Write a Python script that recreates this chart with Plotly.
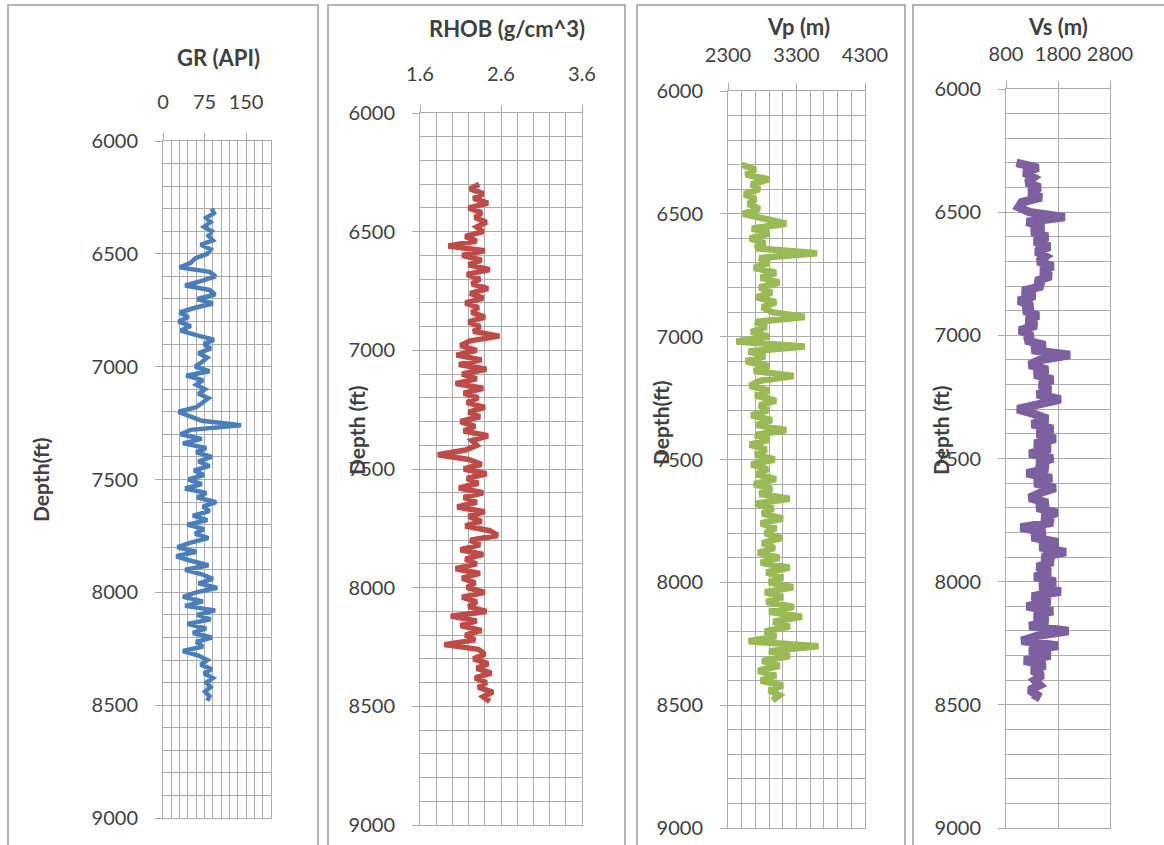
import plotly.graph_objects as go

# ---------------- data ----------------
depth_ft = [
    6300, 6320, 6340, 6360, 6380, 6400, 6420, 6440, 6460, 6480,
    6500, 6520, 6540, 6560, 6580, 6600, 6620, 6640, 6660, 6680,
    6700, 6720, 6740, 6760, 6780, 6800, 6820, 6840, 6860, 6880,
    6900, 6920, 6940, 6960, 6980, 7000, 7020, 7040, 7060, 7080,
    7100, 7120, 7140, 7160, 7180, 7200, 7220, 7240, 7260, 7280,
    7300, 7320, 7340, 7360, 7380, 7400, 7420, 7440, 7460, 7480,
    7500, 7520, 7540, 7560, 7580, 7600, 7620, 7640, 7660, 7680,
    7700, 7720, 7740, 7760, 7780, 7800, 7820, 7840, 7860, 7880,
    7900, 7920, 7940, 7960, 7980, 8000, 8020, 8040, 8060, 8080,
    8100, 8120, 8140, 8160, 8180, 8200, 8220, 8240, 8260, 8280,
    8300, 8320, 8340, 8360, 8380, 8400, 8420, 8440, 8460, 8480,
]

gr_api = [
    88, 92, 78, 86, 74, 88, 82, 90, 68, 86,
    80, 58, 50, 30, 84, 95, 70, 40, 84, 94,
    62, 90, 56, 30, 46, 28, 50, 32, 60, 92,
    74, 86, 64, 80, 70, 58, 84, 42, 72, 60,
    76, 64, 82, 70, 60, 28, 48, 70, 141, 50,
    32, 70, 36, 78, 60, 88, 64, 84, 56, 74,
    46, 70, 40, 78, 62, 96, 72, 84, 54, 80,
    44, 74, 58, 82, 50, 26, 60, 24, 50, 82,
    40, 70, 90, 64, 98, 60, 36, 72, 40, 94,
    62, 86, 44, 78, 54, 88, 60, 72, 36, 64,
    80, 68, 88, 74, 90, 78, 86, 76, 84, 80,
]

rhob_gcc = [
    2.33, 2.22, 2.38, 2.26, 2.44, 2.20, 2.36, 2.28, 2.42, 2.30,
    2.38, 2.16, 2.30, 1.95, 2.40, 2.12, 2.36, 2.20, 2.46, 2.18,
    2.34, 2.24, 2.44, 2.22, 2.38, 2.16, 2.32, 2.24, 2.40, 2.20,
    2.34, 2.26, 2.58, 2.22, 2.10, 2.30, 2.05, 2.36, 2.08, 2.42,
    2.12, 2.30, 2.04, 2.38, 2.14, 2.32, 2.18, 2.40, 2.20, 2.34,
    2.10, 2.28, 2.14, 2.44, 2.24, 2.30, 2.16, 1.82, 2.20, 2.36,
    2.14, 2.42, 2.18, 2.32, 2.08, 2.38, 2.14, 2.30, 2.06, 2.40,
    2.20, 2.36, 2.16, 2.46, 2.56, 2.22, 2.34, 2.10, 2.38, 2.16,
    2.30, 2.04, 2.34, 2.12, 2.28, 2.18, 2.40, 2.12, 2.30, 2.20,
    2.42, 1.98, 2.30, 2.10, 2.36, 2.16, 2.28, 1.90, 2.32, 2.40,
    2.26, 2.44, 2.30, 2.48, 2.28, 2.42, 2.32, 2.50, 2.38, 2.46,
]

vp_m = [
    2500, 2700, 2560, 2900, 2640, 2760, 2540, 2700, 2600, 2760,
    2520, 2800, 3150, 2650, 2900, 2620, 2840, 2700, 3600, 2760,
    2900, 2680, 3000, 2780, 3050, 2760, 2940, 2720, 3000, 2800,
    2940, 3420, 2700, 2860, 2640, 2900, 2420, 3420, 2600, 2840,
    2560, 2900, 2680, 3260, 2760, 2620, 2900, 2700, 3000, 2760,
    2880, 2640, 2940, 2720, 3150, 2700, 2900, 2620, 2860, 2700,
    2980, 2640, 2880, 2720, 3000, 2680, 2940, 2760, 3200, 2700,
    2960, 2800, 3100, 2780, 3000, 2840, 3080, 2800, 2980, 2740,
    3050, 2780, 3200, 2860, 3100, 2900, 3250, 2840, 3100, 2860,
    3260, 2900, 3380, 2960, 3200, 2840, 3000, 2600, 3620, 2900,
    3200, 2800, 3050, 2740, 3000, 2780, 3100, 2900, 3050, 2950,
]

vs_m = [
    1000, 1420, 1150, 1330, 1200, 1450, 1250, 1480, 1100, 1040,
    1250, 1930, 1200, 1520, 1300, 1600, 1350, 1640, 1380, 1560,
    1420, 1700, 1480, 1660, 1380, 1500, 1120, 1350, 1040, 1300,
    1150, 1420, 1200, 1380, 1060, 1300, 1180, 1550, 1300, 2030,
    1450, 1250, 1600, 1350, 1700, 1450, 1650, 1400, 1850, 1500,
    1020, 1350, 1600, 1300, 1700, 1400, 1750, 1350, 1650, 1250,
    1700, 1400, 1600, 1200, 1680, 1350, 1750, 1450, 1250, 1600,
    1400, 1780, 1500, 1700, 1080, 1550, 1300, 1800, 1450, 1950,
    1500, 1700, 1400, 1650, 1350, 1750, 1450, 1850, 1300, 1650,
    1200, 1700, 1350, 1600, 1250, 2000, 1400, 1100, 1800, 1250,
    1650, 1150, 1550, 1300, 1500, 1350, 1450, 1250, 1400, 1350,
]

panel_titles = ["GR (API)", "RHOB (g/cm^3)", "Vp (m)", "Vs (m)"]
depth_titles = ["Depth(ft)", "Depth (ft)", "Depth(ft)", "Depth (ft)"]
x_ranges = [[0, 195], [1.6, 3.6], [2300, 4300], [800, 2800]]
x_tick0 = [0, 1.6, 2300, 800]
x_major = [75, 1.0, 1000, 1000]
x_minor = [15, 0.2, 200, None]
depth_range = [9000, 6000]

series = [gr_api, rhob_gcc, vp_m, vs_m]
colors = ["#4A7EBB", "#BE4B48", "#98B954", "#7D60A0"]
widths = [4.5, 5.5, 6.5, 8.5]

# ---------------- layout geometry (pixels) ----------------
W, H = 1164, 845
plot_px = [  # left, right, top, bottom
    (163, 271, 141, 818),
    (420, 582, 113, 825),
    (728, 865, 91, 828),
    (1006, 1110, 89, 828),
]
title_px = [(218, 58), (507, 28), (798, 27), (1058, 27)]
ytitle_px = [(40, 480), (356, 430), (660, 423), (940, 430)]
frame_px = [(8, 318), (328, 625), (637, 905), (913, 1175)]
label_standoff = [16, 16, 13, 12]

FONT = "Lato, Carlito, 'Open Sans', sans-serif"
GRID = "#ababab"
TXT = "#404040"


def px_x(v):
    return v / W


def px_y(v):
    return 1 - v / H


fig = go.Figure()
layout = dict(
    width=W, height=H, autosize=False,
    margin=dict(l=0, r=0, t=0, b=0, pad=0),
    paper_bgcolor="white", plot_bgcolor="white",
    showlegend=False,
    font=dict(family=FONT, color=TXT),
)

annotations = []
shapes = []
for i in range(4):
    n = "" if i == 0 else str(i + 1)
    l, r, t, b = plot_px[i]
    fig.add_trace(go.Scatter(
        x=series[i], y=depth_ft, mode="lines",
        line=dict(color=colors[i], width=widths[i]),
        xaxis="x" + n, yaxis="y" + n,
    ))
    xa = dict(
        domain=[px_x(l), px_x(r)], anchor="y" + n, side="top",
        range=x_ranges[i], tick0=x_tick0[i], dtick=x_major[i],
        automargin=False, tickangle=0,
        showgrid=True, gridcolor=GRID, gridwidth=1, zeroline=False,
        ticks="outside", ticklen=7, tickcolor=GRID, tickwidth=1,
        showline=True, mirror=True, linecolor=GRID, linewidth=1,
        tickfont=dict(family=FONT, size=20, color=TXT),
        ticklabelstandoff=label_standoff[i],
    )
    if x_minor[i] is not None:
        xa["minor"] = dict(dtick=x_minor[i], tick0=x_tick0[i], showgrid=True,
                           gridcolor=GRID, gridwidth=1, ticks="")
    ya = dict(
        domain=[px_y(b), px_y(t)], anchor="x" + n,
        range=depth_range, tick0=6000, dtick=500,
        automargin=False, tickangle=0,
        showgrid=True, gridcolor=GRID, gridwidth=1, zeroline=False,
        ticks="outside", ticklen=7, tickcolor=GRID, tickwidth=1,
        showline=True, mirror=True, linecolor=GRID, linewidth=1,
        tickfont=dict(family=FONT, size=20, color=TXT),
        ticklabelstandoff=13,
        minor=dict(dtick=100, tick0=6000, showgrid=True, gridcolor=GRID,
                   gridwidth=1, ticks=""),
    )
    layout["xaxis" + n] = xa
    layout["yaxis" + n] = ya

    tx, ty = title_px[i]
    annotations.append(dict(
        text="<b>" + panel_titles[i] + "</b>", x=px_x(tx), y=px_y(ty),
        xref="paper", yref="paper", xanchor="center", yanchor="middle",
        showarrow=False, font=dict(family=FONT, size=22, color=TXT),
    ))
    yx, yy = ytitle_px[i]
    annotations.append(dict(
        text="<b>" + depth_titles[i] + "</b>", x=px_x(yx), y=px_y(yy),
        xref="paper", yref="paper", xanchor="center", yanchor="middle",
        textangle=-90, showarrow=False,
        font=dict(family=FONT, size=21, color=TXT),
    ))
    fl, fr = frame_px[i]
    shapes.append(dict(
        type="rect", xref="paper", yref="paper",
        x0=px_x(fl), x1=px_x(fr), y0=-0.05, y1=px_y(5),
        line=dict(color="#9c9c9c", width=1.5), layer="below",
    ))

layout["annotations"] = annotations
layout["shapes"] = shapes
fig.update_layout(**layout)

fig.write_html("out.html",
               config={"displayModeBar": False},
               post_script="document.body.style.margin='0';"
                           "document.body.style.overflow='hidden';")
